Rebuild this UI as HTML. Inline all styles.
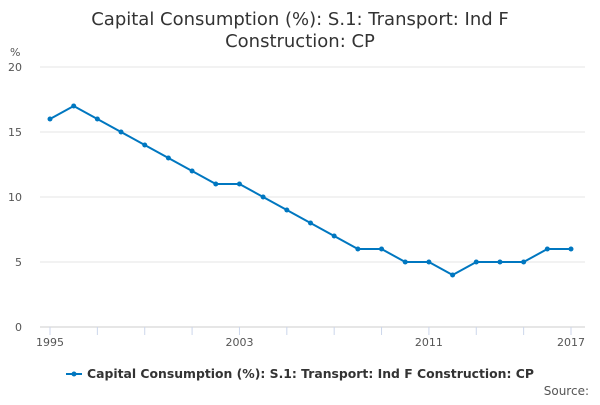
<!DOCTYPE html>
<html><head><meta charset="utf-8"><style>
body{margin:0;background:#fff;font-family:"Liberation Sans","DejaVu Sans",sans-serif;}
svg text{font-family:"DejaVu Sans","Liberation Sans",sans-serif;}
</style></head><body>
<svg id="chart" width="600" height="400">
<text x="300" y="25" text-anchor="middle" font-size="18" fill="#333">Capital Consumption (%): S.1: Transport: Ind F</text>
<text x="300" y="47" text-anchor="middle" font-size="18" fill="#333">Construction: CP</text>
<text x="10" y="56" font-size="11" fill="#555">%</text>
<g id="grid"></g><g id="xaxis"></g>
<polyline id="line" fill="none" stroke="#0077c0" stroke-width="2"></polyline>
<g id="pts"></g>
<g>
<line x1="66" y1="374" x2="82" y2="374" stroke="#0077c0" stroke-width="2"/>
<circle cx="74" cy="374" r="2.5" fill="#0077c0"/>
<text x="87" y="378" font-size="12.4" font-weight="bold" fill="#333">Capital Consumption (%): S.1: Transport: Ind F Construction: CP</text>
</g>
<text x="589" y="395" text-anchor="end" font-size="12" fill="#555">Source:</text>
</svg>
<script>
const years=[1995,1996,1997,1998,1999,2000,2001,2002,2003,2004,2005,2006,2007,2008,2009,2010,2011,2012,2013,2014,2015,2016,2017];
const values=[16,17,16,15,14,13,12,11,11,10,9,8,7,6,6,5,5,4,5,5,5,6,6];
const yTicks=[0,5,10,15,20];
const xLabels=[1995,2003,2011,2017];
const NS="http://www.w3.org/2000/svg";
const x=v=>50+(v-1995)*(521/22);
const y=v=>327-v*13;
function mk(t,a,p){const e=document.createElementNS(NS,t);for(const k in a)e.setAttribute(k,a[k]);p.appendChild(e);return e;}
const g=document.getElementById('grid');
yTicks.forEach(t=>{
 const l=mk('line',{x1:40,x2:585,y1:y(t),y2:y(t),stroke:t===0?'#ccc':'#e6e6e6'},g);
 
 
 const tx=mk('text',{x:22,y:y(t)+4,'text-anchor':'end','font-size':11,fill:'#555'},g);tx.textContent=t;
 
 
});
const xa=document.getElementById('xaxis');
years.forEach((yr,i)=>{ if((yr-1995)%2===0||yr===2017){
 const l=mk('line',{x1:x(yr),x2:x(yr),y1:327,y2:335,stroke:'#ccd6eb'},xa);
 
 }});
xLabels.forEach(yr=>{
 const t=mk('text',{x:x(yr),y:346,'text-anchor':'middle','font-size':11,fill:'#555'},xa);t.textContent=yr;
 
 
});
document.getElementById('line').setAttribute('points',years.map((yr,i)=>x(yr)+','+y(values[i])).join(' '));
const p=document.getElementById('pts');
years.forEach((yr,i)=>{
 const c=mk('circle',{cx:x(yr),cy:y(values[i]),r:2.5,fill:'#0077c0'},p);
 
 
});
</script>
</body></html>
